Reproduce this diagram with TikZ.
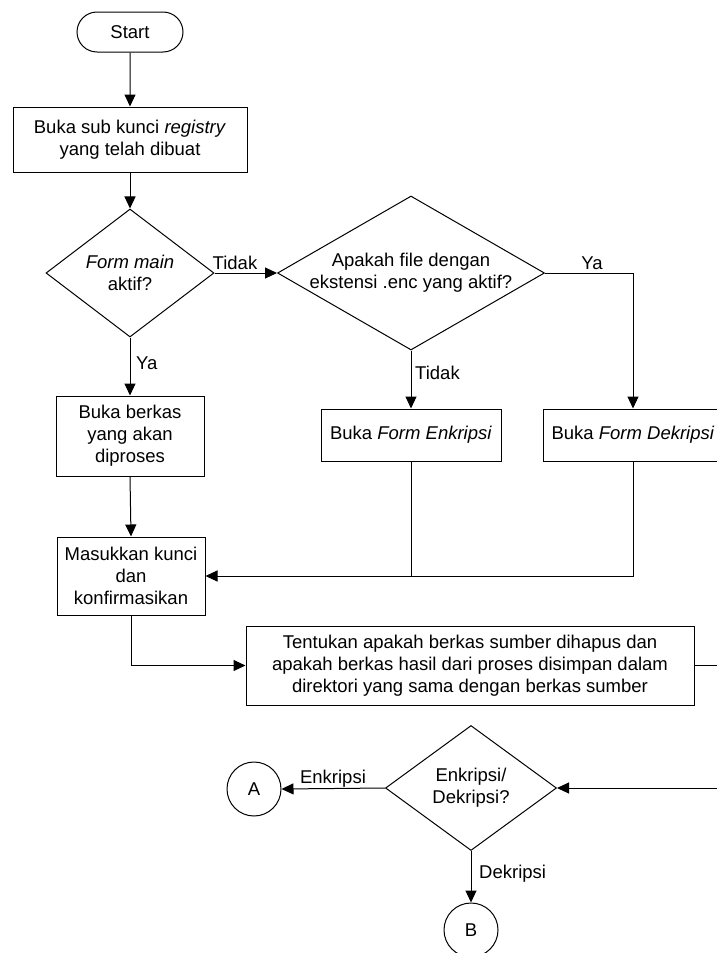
\documentclass[tikz,border=0pt]{standalone}
\usepackage{fontspec}
\setmainfont{Liberation Sans}
\usetikzlibrary{arrows.meta,shapes.geometric,shapes.misc}

\begin{document}
\begin{tikzpicture}[x=1pt,y=-1pt,
  every node/.style={font=\fontsize{18.5}{22}\selectfont},
  base/.style={draw,line width=1pt,align=center,inner sep=0pt},
  term/.style={base,rounded rectangle,minimum width=106pt,minimum height=40pt},
  proc/.style={base,rectangle},
  decide/.style={base,diamond,inner sep=-40pt},
  conn/.style={base,circle,minimum size=54pt},
  flow/.style={line width=1pt,-{Triangle[length=12pt,width=11pt]}},
  plain/.style={line width=1pt},
  lbl/.style={inner sep=0pt}]

\useasboundingbox (0,0) rectangle (717,953);

% process blocks
\node[term] (start) at (130,32) {Start};
\node[proc,minimum width=234pt,minimum height=65pt] (reg) at (130,139.5)
  {Buka sub kunci \textit{registry}\\yang telah dibuat};
\node[decide,minimum width=168pt,minimum height=128pt] (d1) at (130,273)
  {\textit{Form main}\\aktif?};
\node[decide,minimum width=267pt,minimum height=154pt] (d2) at (411,273)
  {Apakah file dengan\\ekstensi .enc yang aktif?};
\node[proc,minimum width=148pt,minimum height=80pt] (berkas) at (130,436)
  {Buka berkas\\yang akan\\diproses};
\node[proc,minimum width=180pt,minimum height=52pt] (enk) at (411,435)
  {Buka \textit{Form Enkripsi}};
\node[proc,minimum width=180pt,minimum height=52pt] (dek) at (633,435)
  {Buka \textit{Form Dekripsi}};
\node[proc,minimum width=148pt,minimum height=78pt] (mas) at (131,576)
  {Masukkan kunci\\dan\\konfirmasikan};
\node[proc,minimum width=448pt,minimum height=79pt] (ten) at (470,665.5)
  {Tentukan apakah berkas sumber dihapus dan\\apakah berkas hasil dari proses disimpan dalam\\direktori yang sama dengan berkas sumber};
\node[decide,minimum width=171pt,minimum height=125pt] (d3) at (471,788)
  {Enkripsi/\\Dekripsi?};
\node[conn] (A) at (254,789) {A};
\node[conn] (B) at (471,930) {B};

% connectors
\draw[flow] (start) -- (reg);
\draw[flow] (reg) -- (d1);
\draw[flow] (d1.east) -- (d2.west);
\draw[flow] (d1.south) -- (berkas.north);
\draw[flow] (d2.east) -| (dek.north);
\draw[flow] (d2.south) -- (enk.north);
\draw[flow] (berkas.south) -- (mas.north);
\draw[plain] (enk.south) -- (enk.south |- mas.east);
\draw[flow] (dek.south) |- (mas.east);
\draw[flow] (mas.south) |- (ten.west);
\coordinate (rim) at (760,730);
\draw[flow] (ten.east) -| (rim) |- (d3.east);
\draw[flow] (d3.west) -- (A.east);
\draw[flow] (d3.south) -- (B.north);

% branch labels
\node[lbl,anchor=base] (t1) at (235,269) {Tidak};
\node[lbl,anchor=base west] (y1) at (136,369) {Ya};
\node[lbl,anchor=base] (y2) at (592,269) {Ya};
\node[lbl,anchor=base west] (t2) at (415,379) {Tidak};
\node[lbl,anchor=base] (e1) at (333,783) {Enkripsi};
\node[lbl,anchor=base west] (k1) at (479,878) {Dekripsi};
\end{tikzpicture}
\end{document}
